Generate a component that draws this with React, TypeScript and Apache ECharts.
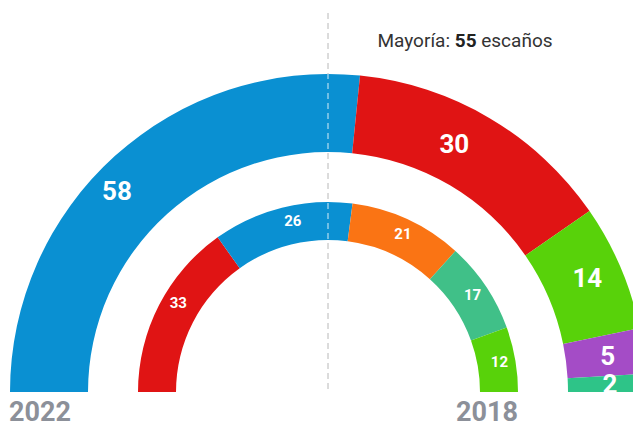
import React, { useEffect, useRef } from "react";
import * as echarts from "echarts";

const parties2022 = ["Azul", "Rojo", "Verde", "Morado", "Turquesa"];
const seats2022 = [58, 30, 14, 5, 2];
const colors2022 = ["#0a90d2", "#e01414", "#58d20a", "#a44cc6", "#2ec488"];

const parties2018 = ["Rojo", "Azul", "Naranja", "Turquesa", "Verde"];
const seats2018 = [33, 26, 21, 17, 12];
const colors2018 = ["#e01414", "#0a90d2", "#fa7414", "#40c088", "#58d20a"];

const majority = 55;
const yearOuter = "2022";
const yearInner = "2018";

// label nudges (style only)
const labelNudge2022 = [[-22, 8], [-17, -5], [0, -3], [0, 0], [0, 0]];
const labelNudge2018 = [[5, -9], [7, -2], [2, 0], [0, 0], [0, 0]];

export default function App() {
  const ref = useRef<HTMLDivElement>(null);
  useEffect(() => {
    document.body.style.margin = "0";
    if (!ref.current) return;
    const chart = echarts.init(ref.current, null, { renderer: "svg" });
    const cx = 328;
    const cy = 392;
    const font = "Roboto, 'Noto Sans', sans-serif";
    const mkSeries = (
      name: string,
      names: string[],
      vals: number[],
      cols: string[],
      nudges: number[][],
      radius: number[],
      fontSize: number
    ) => ({
      type: "pie",
      name,
      center: [cx, cy],
      radius,
      startAngle: 180,
      endAngle: 0,
      clockwise: true,
      avoidLabelOverlap: false,
      silent: true,
      z: 2,
      label: {
        show: true,
        position: "inside",
        formatter: "{c}",
        color: "#fff",
        fontFamily: font,
        fontWeight: "bold",
        fontSize,
      },
      labelLine: { show: false },
      emphasis: { disabled: true },
      itemStyle: { borderWidth: 0 },
      data: names.map((n, i) => ({
        name: n,
        value: vals[i],
        itemStyle: { color: cols[i] },
        label: { offset: nudges[i] },
      })),
    });
    chart.setOption({
      animation: false,
      series: [
        mkSeries(yearOuter, parties2022, seats2022, colors2022, labelNudge2022, [240, 318], 26),
        mkSeries(yearInner, parties2018, seats2018, colors2018, labelNudge2018, [152, 190], 15),
      ],
      graphic: {
        elements: [
          {
            type: "line",
            z: 0,
            shape: { x1: cx, y1: 13, x2: cx, y2: cy },
            style: { stroke: "#9a9a9a", lineWidth: 1.2, lineDash: [6, 4] },
          },
          {
            type: "line",
            z: 10,
            shape: { x1: cx, y1: 13, x2: cx, y2: cy },
            style: { stroke: "rgba(255,255,255,0.7)", lineWidth: 1.2, lineDash: [6, 4] },
          },
          {
            type: "rect",
            z: 20,
            shape: { x: 0, y: cy, width: 633, height: 427 - cy },
            style: { fill: "#ffffff" },
          },
          {
            type: "text",
            z: 30,
            x: 9,
            y: 412,
            style: {
              text: yearOuter,
              fontFamily: font,
              fontWeight: "bold",
              fontSize: 27,
              fill: "#8c9099",
              textVerticalAlign: "middle",
            },
          },
          {
            type: "text",
            z: 30,
            x: 518,
            y: 412,
            style: {
              text: yearInner,
              fontFamily: font,
              fontWeight: "bold",
              fontSize: 27,
              fill: "#8c9099",
              textAlign: "right",
              textVerticalAlign: "middle",
            },
          },
          {
            type: "text",
            z: 30,
            x: 465,
            y: 40,
            style: {
              text: "{n|Mayoría: }{b|" + majority + "}{n| escaños}",
              textAlign: "center",
              textVerticalAlign: "middle",
              rich: {
                n: { fontFamily: font, fontSize: 19, fill: "#333", color: "#333" },
                b: { fontFamily: font, fontSize: 19, fontWeight: "bold", fill: "#222", color: "#222" },
              },
            },
          },
        ],
      },
    });
    return () => chart.dispose();
  }, []);
  return <div ref={ref} style={{ width: 633, height: 427 }} />;
}
